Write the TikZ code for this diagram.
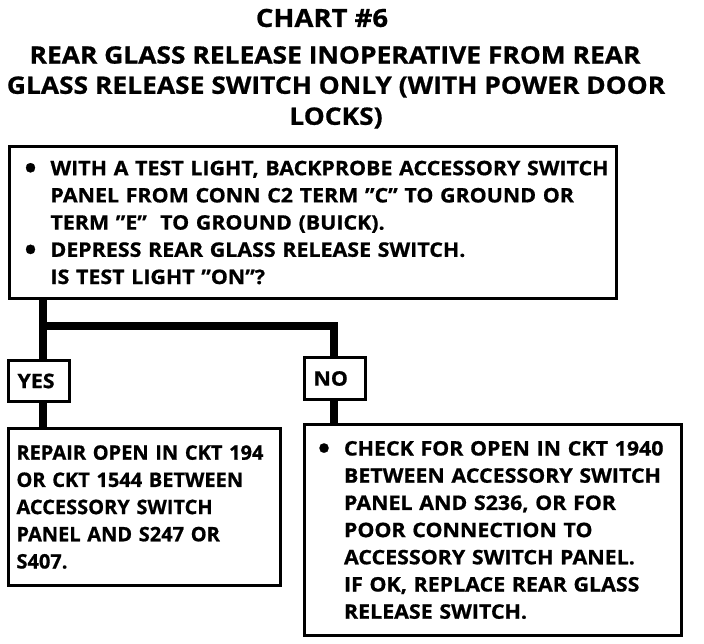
\documentclass[tikz,border=0pt]{standalone}
\usepackage{fontspec}
\setmainfont{Open Sans}
\newfontfamily\bodyfam[FakeStretch=1.07, BoldFeatures={FakeBold=0.8}]{Open Sans}
\newfontfamily\narrowfam[FakeStretch=1.0, BoldFeatures={FakeBold=0.8}]{Open Sans}
\newfontfamily\titlefam[FakeStretch=1.1, BoldFeatures={FakeBold=0.8}]{Open Sans}
\usetikzlibrary{backgrounds}
\newcommand{\bigdot}{\raisebox{-3.5pt}{\fontsize{30}{27}\selectfont\textbullet}}
\newcommand{\bl}[1]{\mbox{\makebox[26pt][l]{\bigdot}#1}}
\newcommand{\il}[1]{\mbox{\hspace*{26pt}#1}}
\newcommand{\pl}[1]{\mbox{#1}}
\begin{document}
\begin{tikzpicture}[x=1pt,y=-1pt,
  bodyfont/.style={font=\bodyfam\bfseries\fontsize{20}{27.2}\selectfont},
  box/.style={draw, line width=3pt, fill=white, anchor=north west, outer sep=0pt,
    align=left, bodyfont, inner ysep=0pt},
  tag/.style={box, inner xsep=9pt, text width=43pt},
  flow/.style={line width=8pt, line join=miter, line cap=butt},
  titlefont/.style={font=\titlefam\bfseries\fontsize{24}{27}\selectfont}]
\useasboundingbox (0,0) rectangle (704,644);
\node[font=\titlefam\bfseries\fontsize{25}{30}\selectfont] (chart) at (322,18) {CHART \#6};
\node[titlefont] (t1) at (335,55) {REAR GLASS RELEASE INOPERATIVE FROM REAR};
\node[titlefont] (t2) at (336,87) {GLASS RELEASE SWITCH ONLY (WITH POWER DOOR};
\node[titlefont] (t3) at (336,118) {LOCKS)};
\node[box, minimum width=607pt, minimum height=152pt, text width=577pt, inner xsep=15pt]
  (top) at (9.5,146.5) {\bl{WITH A TEST LIGHT, BACKPROBE ACCESSORY SWITCH}\\
  \il{PANEL FROM CONN C2 TERM ”C” TO GROUND OR}\\
  \il{TERM ”E”\ \ TO GROUND (BUICK).}\\
  \bl{DEPRESS REAR GLASS RELEASE SWITCH.}\\
  \il{IS TEST LIGHT ”ON”?}};
\node[tag, minimum width=61pt, minimum height=41pt] (yes) at (8.5,360.5) {YES};
\node[tag, minimum width=61pt, minimum height=42pt] (no) at (304.5,357.5) {NO};
\node[box, minimum width=271pt, minimum height=157pt, text width=256pt, inner xsep=8pt,
  font=\narrowfam\bfseries\fontsize{20}{27.2}\selectfont]
  (left) at (8.5,428.5) {\pl{REPAIR OPEN IN CKT 194}\\
  \pl{OR CKT 1544 BETWEEN}\\
  \pl{ACCESSORY SWITCH}\\
  \pl{PANEL AND S247 OR}\\
  \pl{S407.}};
\node[box, minimum width=377pt, minimum height=211pt, text width=350pt, inner xsep=13pt]
  (right) at (304.5,424.5) {\bl{CHECK FOR OPEN IN CKT 1940}\\
  \il{BETWEEN ACCESSORY SWITCH}\\
  \il{PANEL AND S236, OR FOR}\\
  \il{POOR CONNECTION TO}\\
  \il{ACCESSORY SWITCH PANEL.}\\
  \il{IF OK, REPLACE REAR GLASS}\\
  \il{RELEASE SWITCH.}};
\coordinate (fork) at (42.5,326);
\coordinate (bend) at (334,326);
\begin{scope}[on background layer]
  \draw[flow] (top.south -| fork) -- (left.north -| fork);
  \draw[flow] (fork) -- (bend) -- (right.north -| bend);
\end{scope}
\end{tikzpicture}
\end{document}
